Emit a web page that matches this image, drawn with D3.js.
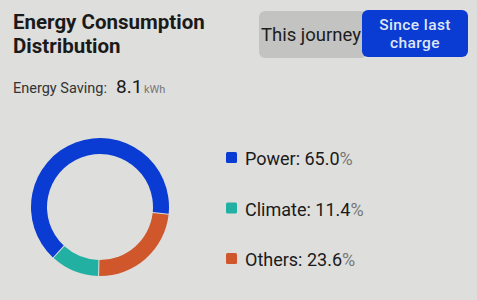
<!DOCTYPE html>
<html>
<head>
<meta charset="utf-8">
<script src="https://cdn.jsdelivr.net/npm/d3@7"></script>
<style>
  body { margin: 0; background: #dededc; }
  svg { display: block; font-family: Roboto, "Noto Sans", sans-serif; }
</style>
</head>
<body>
<div id="main"></div>
<script>
  // chart data
  const categories = ["Power", "Climate", "Others"];
  const shares = [65.0, 11.4, 23.6];
  const colors = ["#0a3bd2", "#22b0a3", "#d0562c"];
  const energySaving = 8.1;

  const width = 477;
  const height = 300;

  const svg = d3.select('#main')
    .append('svg')
    .attr('width', width)
    .attr('height', height);

  svg.append("rect")
    .attr("width", width)
    .attr("height", height)
    .attr("fill", "#dededc");

  // title
  const title = svg.append("text")
    .attr("x", 13)
    .attr("font-size", "20.5px")
    .attr("font-weight", "bold")
    .attr("fill", "#1a1a1a");
  title.append("tspan").attr("x", 13).attr("y", 29).text("Energy Consumption");
  title.append("tspan").attr("x", 13).attr("y", 53).text("Distribution");

  // toggle buttons
  svg.append("rect")
    .attr("x", 259).attr("y", 11)
    .attr("width", 108).attr("height", 47)
    .attr("rx", 6)
    .attr("fill", "#c3c3c1");
  svg.append("text")
    .attr("x", 261).attr("y", 41)
    .attr("font-size", "18.5px")
    .attr("fill", "#1c1c1c")
    .text("This journey");
  svg.append("rect")
    .attr("x", 362).attr("y", 10)
    .attr("width", 106).attr("height", 47)
    .attr("rx", 6)
    .attr("fill", "#0a3bd2");
  svg.append("text")
    .attr("x", 415).attr("y", 29.5)
    .attr("text-anchor", "middle")
    .attr("font-size", "15.5px")
    .attr("letter-spacing", "0.4px")
    .attr("font-weight", "500")
    .attr("fill", "#dfe6f6")
    .text("Since last");
  svg.append("text")
    .attr("x", 415).attr("y", 48)
    .attr("text-anchor", "middle")
    .attr("font-size", "15.5px")
    .attr("letter-spacing", "0.4px")
    .attr("font-weight", "500")
    .attr("fill", "#dfe6f6")
    .text("charge");

  // energy saving line
  svg.append("text")
    .attr("x", 13).attr("y", 93)
    .attr("font-size", "14.5px")
    .attr("fill", "#333")
    .text("Energy Saving:");
  svg.append("text")
    .attr("x", 116).attr("y", 93)
    .attr("font-size", "19px")
    .attr("fill", "#1a1a1a")
    .text(energySaving);
  svg.append("text")
    .attr("x", 144).attr("y", 93)
    .attr("font-size", "11px")
    .attr("fill", "#777")
    .text("kWh");

  // donut
  const data = categories.map((c, i) => ({ name: c, value: shares[i], color: colors[i] }));
  const order = ["Others", "Climate", "Power"];
  const startDeg = 96;
  const pie = d3.pie()
    .value(d => d.value)
    .sort((a, b) => order.indexOf(a.name) - order.indexOf(b.name))
    .startAngle(startDeg * Math.PI / 180)
    .endAngle((startDeg + 360) * Math.PI / 180)
    .padAngle(0.012);
  const arc = d3.arc()
    .innerRadius(53)
    .outerRadius(69);

  svg.append("g")
    .attr("transform", "translate(100,207)")
    .selectAll("path")
    .data(pie(data))
    .join("path")
      .attr("d", arc)
      .attr("fill", d => d.data.color);

  // legend
  const y = d3.scalePoint()
    .domain(categories)
    .range([158, 259]);

  const legend = svg.append("g")
    .selectAll("g")
    .data(data)
    .join("g")
      .attr("transform", d => `translate(226,${y(d.name)})`);
  legend.append("rect")
    .attr("x", 0).attr("y", -6)
    .attr("width", 11).attr("height", 11)
    .attr("rx", 1.5)
    .attr("fill", d => d.color);
  const lt = legend.append("text")
    .attr("x", 19).attr("y", 7)
    .attr("font-size", "18px")
    .attr("fill", "#1a1a1a");
  lt.append("tspan").text(d => `${d.name}: ${d.value.toFixed(1)}`);
  lt.append("tspan").attr("fill", "#777").text("%");
</script>
</body>
</html>
